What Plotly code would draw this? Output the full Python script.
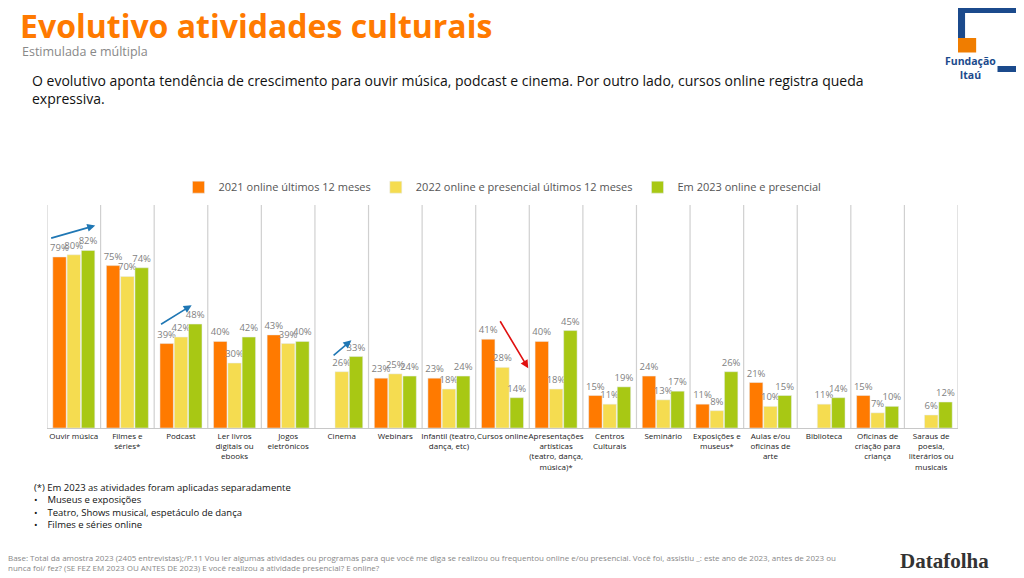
import plotly.graph_objects as go

categories = ["Ouvir música", "Filmes e<br>séries*", "Podcast", "Ler livros<br>digitais ou<br>ebooks",
              "Jogos<br>eletrônicos", "Cinema", "Webinars", "Infantil (teatro,<br>dança, etc)",
              "Cursos online", "Apresentações<br>artísticas<br>(teatro, dança,<br>música)*",
              "Centros<br>Culturais", "Seminário", "Exposições e<br>museus*", "Aulas e/ou<br>oficinas de<br>arte",
              "Biblioteca", "Oficinas de<br>criação para<br>criança", "Saraus de<br>poesia,<br>literários ou<br>musicais"]
s2021 = [79, 75, 39, 40, 43, None, 23, 23, 41, 40, 15, 24, 11, 21, None, 15, None]
s2022 = [80, 70, 42, 30, 39, 26, 25, 18, 28, 18, 11, 13, 8, 10, 11, 7, 6]
s2023 = [82, 74, 48, 42, 40, 33, 24, 24, 14, 45, 19, 17, 26, 15, 14, 10, 12]
series = [("2021 online últimos 12 meses", s2021, "#FF7A00"),
          ("2022 online e presencial últimos 12 meses", s2022, "#F5DC50"),
          ("Em 2023 online e presencial", s2023, "#A8C814")]

# the page puts the figure 8px in from the top-left corner
OFF = 8
x = list(range(len(categories)))
fig = go.Figure()
for name, vals, col in series:
    fig.add_bar(x=x, y=vals, name=name, marker_color=col,
                text=[f"{v}%" if v is not None else "" for v in vals],
                textposition="outside", cliponaxis=False, constraintext="none",
                textfont=dict(size=9.5, color="#7F7F7F"))

fig.update_layout(
    width=1024 - OFF, height=578 - OFF, plot_bgcolor="white", paper_bgcolor="white",
    font=dict(family="Open Sans, Noto Sans, sans-serif", color="#333"),
    margin=dict(l=47 - OFF, r=74 - OFF, t=205 - OFF, b=150, autoexpand=False),
    barmode="group", bargap=0.2, bargroupgap=0.06,
    legend=dict(orientation="h", x=0.5, xanchor="center", y=1.015, yanchor="bottom",
                font=dict(size=11, color="#555"), traceorder="normal"),
    xaxis=dict(tickvals=x, ticktext=categories, tickfont=dict(size=8, color="#222"),
               tickangle=0, automargin=False,
               showgrid=False, range=[-0.5, 16.5], ticks="", showline=True, linecolor="#C8C8C8"),
    yaxis=dict(range=[0, 103], visible=False),
    showlegend=True,
)
for k in range(18):
    fig.add_shape(type="line", x0=k - 0.5, x1=k - 0.5, y0=0, y1=103, xref="x", yref="y",
                  line=dict(color="#D0D0D0", width=1.2))

def arrow(x0, y0, x1, y1, col):
    fig.add_annotation(x=x1, y=y1, ax=x0, ay=y0, xref="x", yref="y", axref="x", ayref="y",
                       showarrow=True, arrowhead=2, arrowsize=1, arrowwidth=1.6, arrowcolor=col, text="")

arrow(-0.45, 87.5, 0.4, 93.5, "#1F77B4")
arrow(1.6, 47.5, 2.2, 56.7, "#1F77B4")
arrow(4.82, 33, 5.18, 40.5, "#1F77B4")
arrow(7.94, 50, 8.48, 27.6, "#E01010")

W, H = 903, 223
def px(X): return (X - 47) / W
def py(Y): return (428 - Y) / H

def txt(xp, yp, s, size, color="#222"):
    fig.add_annotation(x=px(xp), y=py(yp), xref="paper", yref="paper", text=s, showarrow=False,
                       xanchor="left", yanchor="top", align="left",
                       font=dict(size=size, color=color))

txt(18, 2, "<b>Evolutivo atividades culturais</b>", 32, "#FF7A00")
txt(20, 41, "Estimulada e múltipla", 12.5, "#888")
txt(30, 69, "O evolutivo aponta tendência de crescimento para ouvir música, podcast e cinema. Por outro lado, cursos online registra queda<br>expressiva.", 14, "#111")
txt(32, 479, "(*) Em 2023 as atividades foram aplicadas separadamente<br>•    Museus e exposições<br>•    Teatro, Shows musical, espetáculo de dança<br>•    Filmes e séries online", 9.5, "#111")
txt(6, 550, "Base: Total da amostra 2023 (2405 entrevistas);/P.11 Vou ler algumas atividades ou programas para que você me diga se realizou ou frequentou online e/ou presencial. Você foi, assistiu _: este ano de 2023, antes de 2023 ou<br>nunca foi/ fez? (SE FEZ EM 2023 OU ANTES DE 2023) E você realizou a atividade presencial? E online?", 8, "#888")
fig.add_annotation(x=px(983), y=py(561), xref="paper", yref="paper", text="<b>Datafolha</b>",
                   showarrow=False, xanchor="right", yanchor="middle",
                   font=dict(size=21, color="#333", family="Liberation Serif, DejaVu Serif, serif"))

# logo
fig.add_shape(type="rect", xref="paper", yref="paper", x0=px(950), x1=px(1020), y0=py(72), y1=py(6),
              fillcolor="#1B4A8C", line=dict(width=0))
fig.add_shape(type="rect", xref="paper", yref="paper", x0=px(957), x1=px(1013), y0=py(66), y1=py(13),
              fillcolor="white", line=dict(width=0))
fig.add_shape(type="rect", xref="paper", yref="paper", x0=px(950), x1=px(968), y0=py(72), y1=py(38),
              fillcolor="#F07D00", line=dict(width=0))
fig.add_annotation(x=px(990), y=py(52), xref="paper", yref="paper", showarrow=False,
                   text="<b>Fundação<br>Itaú</b>", font=dict(size=10.5, color="#1B4A8C"), bgcolor="white")

fig.write_html("out.html")
